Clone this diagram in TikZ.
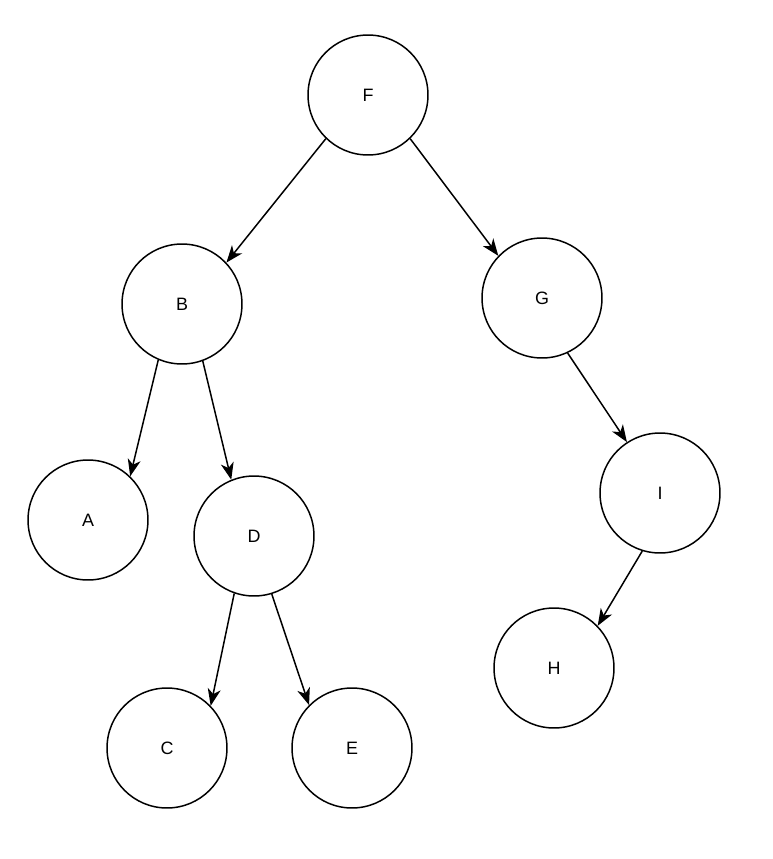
\documentclass[tikz,border=0pt]{standalone}
\usepackage{fontspec}
\setmainfont{Liberation Sans}
\usetikzlibrary{arrows.meta}

\begin{document}
\begin{tikzpicture}[
  x=0.02cm,y=-0.02cm,
  >={Stealth[length=3.4mm,width=2.6mm,inset=1mm]},
  ->,
  line width=0.85pt,
  every node/.style={font=\fontsize{10.2}{12}\selectfont},
  key node/.style={circle,draw,line width=0.85pt,minimum size=2.4cm,inner sep=0pt,fill=white},
]
\useasboundingbox (0,0) rectangle (772,859);
\node[key node] (F) at (368,95) {F};
\node[key node] (B) at (182,304) {B};
\node[key node] (G) at (542,298) {G};
\node[key node] (A) at (88,520) {A};
\node[key node] (D) at (254,536) {D};
\node[key node] (I) at (660,493) {I};
\node[key node] (H) at (554,668) {H};
\node[key node] (C) at (167,748) {C};
\node[key node] (E) at (352,748) {E};
\draw (F.226) -- (B.43);
\draw (F.314) -- (G.136);
\draw (B.247) -- (A.46);
\draw (B.290) -- (D.112);
\draw (D.251) -- (C.44);
\draw (D.287) -- (E.135);
\draw (G.295) -- (I.123);
\draw (I.253) -- (H.44);
\end{tikzpicture}
\end{document}
